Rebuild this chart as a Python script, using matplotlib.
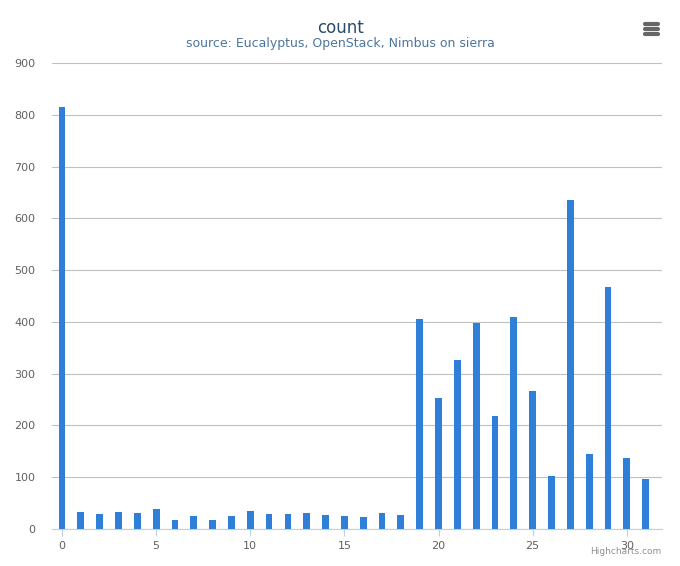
import numpy as np
import matplotlib.pyplot as plt

x = np.arange(32)
counts = [815, 33, 29, 33, 31, 39, 17, 25, 17, 25, 35, 29, 29, 31, 27, 25, 23, 31, 27,
          406, 253, 326, 398, 218, 409, 267, 102, 635, 145, 467, 137, 97]

fig = plt.figure(figsize=(6.8, 5.66), dpi=100)
ax = fig.add_axes([52 / 680, 37 / 566, 610 / 680, 466 / 566])
ax.bar(x, counts, width=0.36, color='#2f7ed8', zorder=3)
ax.set_xlim(-0.53, 31.87)
ax.set_ylim(0, 900)
ax.set_yticks(range(0, 901, 100))
ax.set_xticks(range(0, 31, 5))
ax.grid(axis='y', color='#c0c0c0', linewidth=0.8, zorder=0)
for s in ['top', 'right', 'left']:
    ax.spines[s].set_visible(False)
ax.spines['bottom'].set_color('#c0d0e0')
ax.tick_params(axis='y', length=0, labelsize=8, colors='#606060', pad=12)
ax.tick_params(axis='x', length=5, color='#c0d0e0', labelsize=8, labelcolor='#606060')

fig.text(0.5, 1 - 28 / 566, 'count', ha='center', va='center', fontsize=12, color='#274b6d')
fig.text(0.5, 1 - 44 / 566, 'source: Eucalyptus, OpenStack, Nimbus on sierra', ha='center',
         va='center', fontsize=9, color='#4d759e')
fig.text(661 / 680, 1 - 552 / 566, 'Highcharts.com', ha='right', va='center', fontsize=6.5, color='#909090')
for dy in (-5, 0, 5):
    fig.add_artist(plt.Line2D([645 / 680, 658 / 680], [(1 - (29 + dy) / 566)] * 2,
                              color='#666666', linewidth=3, solid_capstyle='round'))

fig.savefig('out.png')
